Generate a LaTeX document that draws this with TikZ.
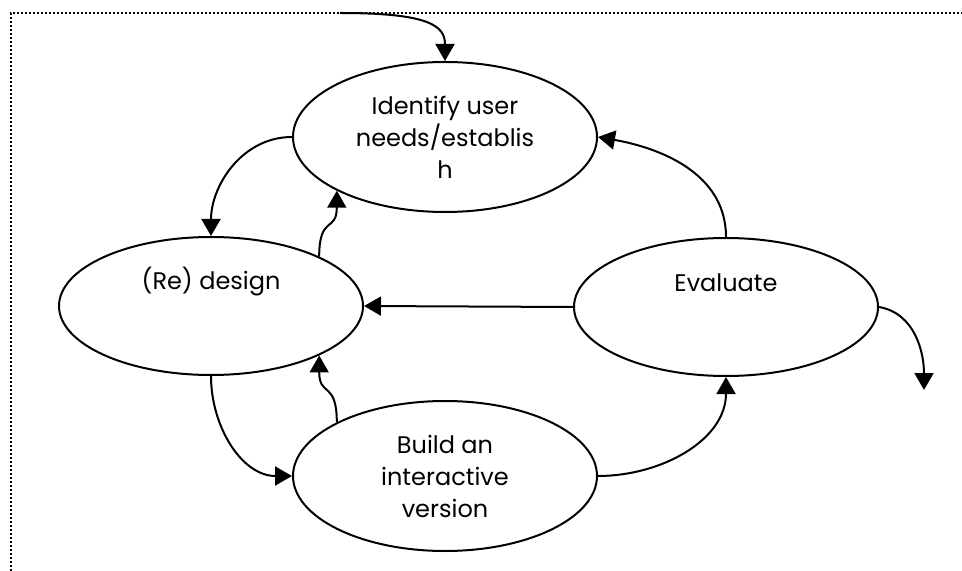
\documentclass[tikz,border=0pt]{standalone}
\usepackage{fontspec}
\setmainfont{Poppins}
\usetikzlibrary{shapes.geometric}
\usetikzlibrary{arrows.meta}

\begin{document}
\begin{tikzpicture}[x=0.5pt,y=-0.5pt,line width=1pt,
    font=\fontsize{12}{16}\selectfont,>={Triangle[length=8.5pt,width=9.5pt]}]
      \tikzstyle{stage}=[draw, ellipse, minimum width=152pt, align=center, inner sep=0pt]
      \useasboundingbox (0,0) rectangle (962,571);

      % frame
      \draw[dash pattern=on 1pt off 1pt] (11,571) -- (11,13) -- (962,13);

      \node[stage, minimum height=75pt] (ident)  at (445,137) {Identify user\\needs/establis\\h};
      \node[stage, minimum height=69pt, label={[yshift=12pt]center:(Re) design}] (design) at (211,306) {};
      \node[stage, minimum height=69pt, label={[yshift=12pt]center:Evaluate}] (eval) at (726,307) {};
      \node[stage, minimum height=75pt] (build)  at (445,476) {Build an\\interactive\\version};

      \coordinate (start) at (340,13);
      \coordinate (exit)  at (924,390);

      \draw[->] (start) .. controls +(90,0) and +(0,-35) .. (ident.north);
      \draw[->] (ident.west) to[out=180,in=90] (design.north);
      \draw[->] (design.north east) .. controls +(0,-42) and +(0,42) .. (ident.south west);
      \draw[->] (eval.north) to[out=90,in=-10] (ident.east);
      \draw[->] (eval.west) -- (design.east);
      \draw[->] (design.south) to[out=-90,in=180] (build.west);
      \draw[->] (build.north west) .. controls +(0,-42) and +(0,42) .. (design.south east);
      \draw[->] (build.east) to[out=0,in=-90] (eval.south);
      \draw[->] (eval.east) to[out=-10,in=90] (exit);
  \end{tikzpicture}
\end{document}
